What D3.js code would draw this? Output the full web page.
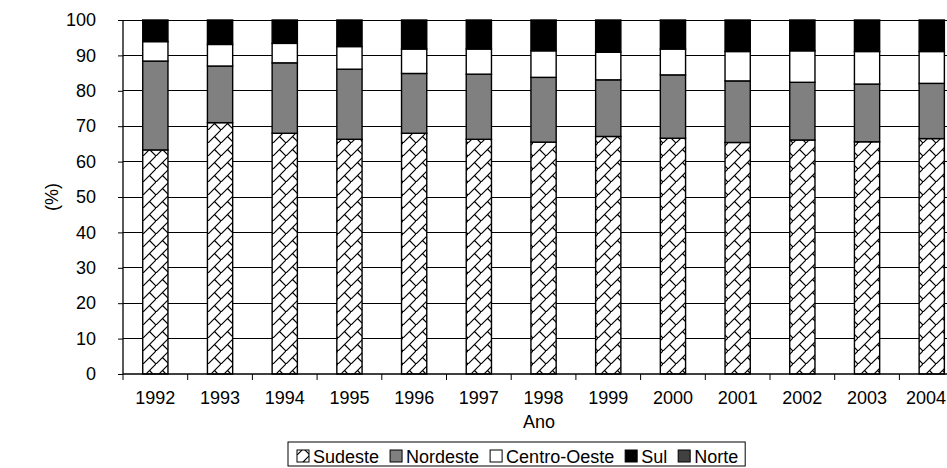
<!DOCTYPE html>
<html><head><meta charset="utf-8">
<script src="https://cdn.jsdelivr.net/npm/d3@7"></script>
<style>body{margin:0;background:#fff}svg{display:block}text{font-family:"Liberation Sans",Arial,sans-serif;fill:#000}</style>
</head><body><svg id="c" width="947" height="468"></svg>
<script>
const years = ["1992","1993","1994","1995","1996","1997","1998","1999","2000","2001","2002","2003","2004"];
const sudeste = [63.3,71.0,68.0,66.3,68.0,66.3,65.5,67.1,66.6,65.4,66.1,65.6,66.5];
const nordeste = [25.1,16.0,19.9,19.8,16.9,18.4,18.3,16.0,17.9,17.4,16.3,16.3,15.6];
const centroOeste = [5.5,6.1,5.5,6.4,6.9,7.1,7.5,7.8,7.3,8.3,8.9,9.2,9.0];
const sul = [6.1,6.9,6.6,7.5,8.2,8.2,8.7,9.1,8.2,8.9,8.7,8.9,8.9];
const norte = [0,0,0,0,0,0,0,0,0,0,0,0,0];
const yTicks = [0,10,20,30,40,50,60,70,80,90,100];
const seriesNames = ["Sudeste","Nordeste","Centro-Oeste","Sul","Norte"];
const seriesValues = [sudeste,nordeste,centroOeste,sul,norte];
const fills = ["url(#brick)","#808080","#ffffff","#000000","#404040"];

const svg = d3.select("#c");
const defs = svg.append("defs");
const pat = defs.append("pattern").attr("id","brick").attr("patternUnits","userSpaceOnUse")
  .attr("width",13).attr("height",13);
pat.append("rect").attr("width",13).attr("height",13).attr("fill","#fff");
pat.append("path").attr("d","M-1,14 L14,-1 M6.5,6.5 L13,13 M-6.5,6.5 L0,13").attr("stroke","#000").attr("stroke-width",1.2).attr("fill","none");

const pLeft = 123, pTop = 20, pBottom = 374, catW = 64.7;
const pRight = pLeft + catW*years.length;
const x = d3.scaleBand().domain(years).range([pLeft, pRight]).paddingInner(0.61).paddingOuter(0.305);
const y = d3.scaleLinear().domain([0,100]).range([pBottom, pTop]);
const FS = "18px";

// gridlines
svg.append("g").selectAll("line").data(yTicks.filter(d=>d>0)).join("line")
  .attr("x1",pLeft).attr("x2",pRight).attr("y1",d=>y(d)).attr("y2",d=>y(d))
  .attr("stroke","#000").attr("stroke-width",1).attr("shape-rendering","crispEdges");

// stacks
const table = years.map((yr,i)=>{const o={year:yr}; seriesNames.forEach((s,j)=>o[s]=seriesValues[j][i]); return o;});
const stack = d3.stack().keys(seriesNames)(table);
svg.append("g").selectAll("g").data(stack).join("g")
  .attr("fill",(d,i)=>fills[i])
  .selectAll("rect").data(d=>d.filter(p=>p[1]-p[0]>0)).join("rect")
  .attr("x",d=>x(d.data.year)).attr("width",x.bandwidth())
  .attr("y",d=>y(d[1])).attr("height",d=>y(d[0])-y(d[1]))
  .attr("stroke","#000").attr("stroke-width",1.4);

// y axis
const ya = svg.append("g").attr("transform",`translate(${pLeft},0)`)
  .call(d3.axisLeft(y).tickValues(yTicks).tickSize(5).tickPadding(22));
ya.select(".domain").attr("stroke","#000").attr("stroke-width",1.3).attr("d",`M0,${pTop}V${pBottom}`);
ya.selectAll("text").attr("font-size",FS).attr("font-family","Liberation Sans, Arial, sans-serif");
ya.selectAll("line").attr("stroke","#000");

// x axis
const xa = svg.append("g").attr("transform",`translate(0,${pBottom})`);
xa.append("line").attr("x1",pLeft).attr("x2",pRight).attr("stroke","#000").attr("stroke-width",1.5);
xa.selectAll(".tk").data(d3.range(years.length+1)).join("line").attr("class","tk")
  .attr("x1",i=>pLeft+i*catW).attr("x2",i=>pLeft+i*catW).attr("y1",0).attr("y2",6).attr("stroke","#000");
xa.selectAll("text.yr").data(years).join("text").attr("class","yr")
  .attr("x",d=>x(d)+x.bandwidth()/2).attr("y",30).attr("text-anchor","middle").attr("font-size",FS).text(d=>d)
  .each(function(){
    const w = this.getComputedTextLength();
    const cxv = +this.getAttribute("x");
    if (cxv + w/2 > 946) this.setAttribute("x", 946 - w/2);
  });

svg.append("text").attr("x",539).attr("y",428).attr("text-anchor","middle").attr("font-size",FS).text("Ano");
svg.append("text").attr("transform","translate(58,197) rotate(-90)").attr("text-anchor","middle").attr("font-size",FS).text("(%)");

// legend
const lg = svg.append("g");
const lx = 288, ly = 442, lh = 24;
let cx = lx + 9;
seriesNames.forEach((s,i)=>{
  const g = lg.append("g").attr("transform",`translate(${cx},${ly})`);
  g.append("rect").attr("x",0).attr("y",8).attr("width",12).attr("height",12).attr("fill",fills[i]).attr("stroke","#000");
  const t = g.append("text").attr("x",16).attr("y",21).attr("font-size",FS).text(s);
  cx += 16 + t.node().getComputedTextLength() + 11;
});
lg.insert("rect",":first-child").attr("x",lx).attr("y",ly).attr("width",cx-lx-4).attr("height",lh)
  .attr("fill","#fff").attr("stroke","#000").attr("stroke-width",1);
</script></body></html>
